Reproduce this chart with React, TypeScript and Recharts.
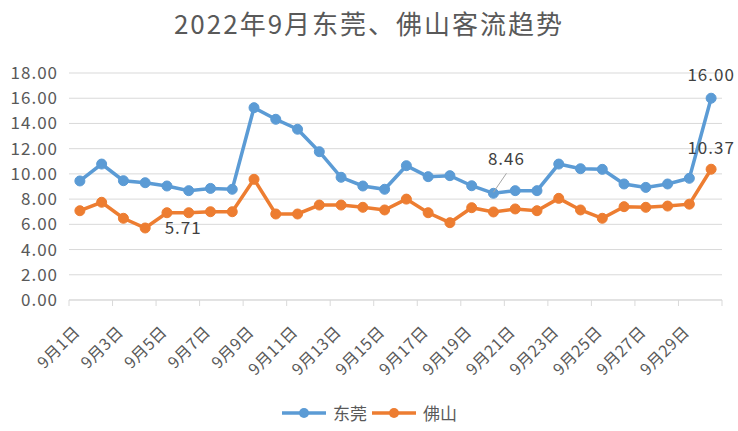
import { LineChart, Line, XAxis, YAxis, CartesianGrid } from "recharts"

const title = "2022年9月东莞、佛山客流趋势"
const days = Array.from({ length: 30 }, (_, i) => `9月${i + 1}日`)
const dongguan = [
  9.44, 10.78, 9.46, 9.3, 9.04, 8.67, 8.85, 8.78, 15.25, 14.33,
  13.54, 11.76, 9.73, 9.04, 8.78, 10.65, 9.78, 9.86, 9.06, 8.46,
  8.67, 8.67, 10.78, 10.41, 10.36, 9.2, 8.93, 9.2, 9.65, 16.0
]
const foshan = [
  7.08, 7.75, 6.48, 5.71, 6.92, 6.92, 7.0, 7.0, 9.57, 6.82,
  6.82, 7.53, 7.53, 7.35, 7.14, 8.0, 6.92, 6.13, 7.32, 6.98,
  7.22, 7.08, 8.06, 7.14, 6.48, 7.4, 7.35, 7.45, 7.6, 10.37
]
const yTicks = [0, 2, 4, 6, 8, 10, 12, 14, 16, 18]

const series = [
  { key: "dg", name: "东莞", color: "#5B9BD5", values: dongguan },
  { key: "fs", name: "佛山", color: "#ED7D31", values: foshan }
]

const data = days.map((d, i) => ({ day: d, dg: dongguan[i], fs: foshan[i] }))

const FONT = "'Noto Sans CJK SC', 'Noto Sans', sans-serif"
const GRID = "#d9d9d9"

function XTick(props: any) {
  const { x, y, payload } = props
  const half = payload.offset ?? 10.9
  const isLast = payload.value === days[days.length - 2]
  return (
    <g>
      <line x1={x - half} x2={x - half} y1={y - 8} y2={y - 2} stroke={GRID} />
      {isLast && (
        <line x1={x + 3 * half} x2={x + 3 * half} y1={y - 8} y2={y - 2} stroke={GRID} />
      )}
      <text
        x={x + 1}
        y={y + 25}
        textAnchor="end"
        transform={`rotate(-45 ${x + 1} ${y + 25})`}
        fontSize={16}
        letterSpacing={0.5}
        fill="#595959"
        fontFamily={FONT}
      >
        {payload.value}
      </text>
    </g>
  )
}

const labelStyle = { fontSize: 17, fill: "#404040", fontFamily: FONT, letterSpacing: 1 }

// only a few points carry a value label in the original
function dgLabel(props: any) {
  const { x, y, value, index } = props
  if (index === dongguan.length - 1) {
    return (
      <text x={x} y={y - 17} textAnchor="middle" {...labelStyle}>
        {Number(value).toFixed(2)}
      </text>
    )
  }
  if (index === 19) {
    return (
      <g>
        <line x1={x} y1={y - 1} x2={x + 13} y2={y - 20} stroke="#a6a6a6" />
        <text x={x + 13} y={y - 28} textAnchor="middle" {...labelStyle}>
          {Number(value).toFixed(2)}
        </text>
      </g>
    )
  }
  return null
}

function fsLabel(props: any) {
  const { x, y, value, index } = props
  if (index === foshan.length - 1) {
    return (
      <text x={x} y={y - 15} textAnchor="middle" {...labelStyle}>
        {Number(value).toFixed(2)}
      </text>
    )
  }
  if (index === 3) {
    return (
      <text x={x + 38} y={y + 6} textAnchor="middle" {...labelStyle}>
        {Number(value).toFixed(2)}
      </text>
    )
  }
  return null
}

export default function App() {
  return (
    <div
      style={{
        position: "absolute",
        left: 0,
        top: 0,
        width: 738,
        height: 431,
        background: "#fff",
        fontFamily: FONT
      }}
    >
      <div
        style={{
          position: "absolute",
          top: 5,
          left: 0,
          width: 738,
          textAlign: "center",
          fontSize: 26,
          letterSpacing: 2,
          color: "#595959",
          lineHeight: "36px"
        }}
      >
        {title}
      </div>

      <LineChart
        width={738}
        height={431}
        data={data}
        margin={{ top: 73, right: 16, bottom: 101, left: 0 }}
        style={{ overflow: "visible" }}
      >
        <CartesianGrid vertical={false} stroke={GRID} />
        <XAxis
          dataKey="day"
          scale="band"
          height={30}
          interval={1}
          tickLine={false}
          axisLine={{ stroke: GRID }}
          tick={<XTick />}
        />
        <YAxis
          width={69}
          domain={[0, 18]}
          ticks={yTicks}
          interval={0}
          axisLine={false}
          tickLine={false}
          tickMargin={5}
          tickFormatter={(v: number) => v.toFixed(2)}
          tick={{ fontSize: 17, fill: "#595959", fontFamily: FONT, letterSpacing: 1 }}
        />
        <Line
          dataKey="dg"
          stroke="#5B9BD5"
          strokeWidth={3.5}
          dot={{ r: 5, fill: "#5B9BD5", stroke: "#5B9BD5", strokeWidth: 1 }}
          label={dgLabel}
          isAnimationActive={false}
        />
        <Line
          dataKey="fs"
          stroke="#ED7D31"
          strokeWidth={3.5}
          dot={{ r: 5, fill: "#ED7D31", stroke: "#ED7D31", strokeWidth: 1 }}
          label={fsLabel}
          isAnimationActive={false}
        />
      </LineChart>

      <div
        style={{
          position: "absolute",
          top: 400,
          left: 0,
          width: 738,
          display: "flex",
          justifyContent: "center",
          alignItems: "center",
          gap: 4,
          fontSize: 17,
          color: "#595959"
        }}
      >
        {series.map(s => (
          <div key={s.key} style={{ display: "flex", alignItems: "center", gap: 6 }}>
            <svg width={46} height={12}>
              <line x1={1} x2={45} y1={6} y2={6} stroke={s.color} strokeWidth={3.5} />
              <circle cx={23} cy={6} r={5} fill={s.color} />
            </svg>
            <span>{s.name}</span>
          </div>
        ))}
      </div>
    </div>
  )
}
